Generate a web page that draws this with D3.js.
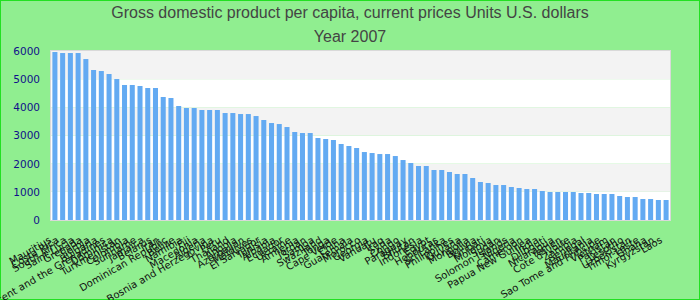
<!DOCTYPE html>
<html>
<head>
<meta charset="utf-8">
<script src="https://cdn.jsdelivr.net/npm/d3@7"></script>
<style>
  body { margin: 0; }
  svg { display: block; }
</style>
</head>
<body>
<div id="chart"><svg width="700" height="300"></svg></div>
<script>
// countries sorted by value
const countries = ["Mauritius", "Costa Rica", "South Africa", "Saint Lucia", "Grenada", "Serbia", "Bulgaria",
  "Saint Vincent and the Grenadines", "Dominica", "Turkmenistan", "Colombia", "Suriname", "Jamaica", "Belarus",
  "Iran", "Dominican Republic", "Belize", "Namibia", "Fiji", "Macedonia", "Algeria", "Bosnia and Herzegovina",
  "Peru", "Thailand", "Angola", "Azerbaijan", "Maldives", "El Salvador", "Tunisia", "Albania", "Ecuador",
  "Ukraine", "Armenia", "Jordan", "Samoa", "Swaziland", "Tonga", "Cape Verde", "China", "Guatemala",
  "Morocco", "Georgia", "Vanuatu", "Iraq", "Syria", "Congo", "Paraguay", "Bhutan", "Indonesia", "Egypt",
  "Honduras", "Sri Lanka", "Philippines", "Guyana", "Mongolia", "Bolivia", "Kiribati", "Moldova", "Sudan",
  "Solomon Islands", "Nigeria", "Cameroon", "Papua New Guinea", "India", "Djibouti", "Nicaragua", "Yemen",
  "Cote d'Ivoire", "Zambia", "Senegal", "Mauritania", "Sao Tome and Principe", "Vietnam", "Pakistan",
  "Lesotho", "Uzbekistan", "Timor-Leste", "Ghana", "Kyrgyzstan", "Laos"];

const gdpPerCapita = [5964, 5928, 5928, 5928, 5714, 5325, 5289, 5183, 5005, 4793, 4793, 4757, 4686, 4686,
  4367, 4331, 4047, 3976, 3976, 3905, 3905, 3905, 3798, 3798, 3762, 3762, 3691, 3550, 3443, 3407, 3301,
  3124, 3088, 3088, 2911, 2875, 2840, 2698, 2627, 2556, 2413, 2378, 2342, 2342, 2271, 2129, 2023, 1917,
  1917, 1775, 1775, 1704, 1633, 1633, 1491, 1349, 1313, 1242, 1242, 1171, 1136, 1100, 1100, 1029, 994,
  994, 994, 994, 958, 958, 923, 923, 923, 852, 816, 816, 745, 745, 710, 710];

const yTicks = [0, 1000, 2000, 3000, 4000, 5000, 6000];
const titleLines = ["Gross domestic product per capita, current prices Units U.S. dollars", "Year 2007"];

const svg = d3.select("#chart svg");
const width = +svg.attr("width");
const height = +svg.attr("height");
const plot = {left: 51, right: 670, top: 51, bottom: 220};

// background + outer border
svg.append("rect")
    .attr("x", 0.5).attr("y", 0.5)
    .attr("width", width - 1).attr("height", height - 1)
    .attr("fill", "#90ee90")
    .attr("stroke", "#22e022");

const x = d3.scaleBand()
    .domain(countries)
    .range([plot.left, plot.right])
    .paddingInner(0.35)
    .paddingOuter(0.18);

const y = d3.scaleLinear()
    .domain([0, 6000])
    .range([plot.bottom, plot.top]);

// alternating bands
svg.append("g")
  .selectAll("rect")
  .data(yTicks.slice(0, -1))
  .join("rect")
    .attr("x", plot.left)
    .attr("width", plot.right - plot.left)
    .attr("y", d => y(d + 1000))
    .attr("height", d => y(d) - y(d + 1000))
    .attr("fill", (d, i) => i % 2 ? "#f3f3f3" : "#ffffff");

svg.append("rect")
    .attr("x", plot.left - 0.5).attr("y", plot.top - 0.5)
    .attr("width", plot.right - plot.left + 1).attr("height", plot.bottom - plot.top + 1)
    .attr("fill", "none")
    .attr("stroke", "#d9d9d9");

// bars
svg.append("g")
  .selectAll("rect")
  .data(countries)
  .join("rect")
    .attr("x", d => x(d))
    .attr("width", x.bandwidth())
    .attr("y", (d, i) => y(gdpPerCapita[i]))
    .attr("height", (d, i) => y(0) - y(gdpPerCapita[i]))
    .attr("fill", "#63aaf2");

// y axis labels
const yAxis = svg.append("g")
    .attr("transform", `translate(${plot.left - 11},0)`)
    .call(d3.axisLeft(y).tickValues(yTicks).tickFormat(d3.format("d")).tickSize(0).tickPadding(0));
yAxis.select(".domain").remove();
yAxis.selectAll("text")
    .attr("fill", "#10108a")
    .attr("font-family", "DejaVu Sans")
    .attr("font-size", 10.5);

// x labels, rotated
svg.append("g")
  .selectAll("text")
  .data(countries)
  .join("text")
    .attr("transform", d => `translate(${x(d) + x.bandwidth() / 2 - 3},242) rotate(-30)`)
    .attr("text-anchor", "end")
    .attr("font-family", "DejaVu Sans")
    .attr("font-size", 10)
    .attr("fill", "#111")
    .text(d => d);

// title
svg.append("g")
  .selectAll("text")
  .data(titleLines)
  .join("text")
    .attr("x", width / 2)
    .attr("y", (d, i) => 18 + i * 24)
    .attr("text-anchor", "middle")
    .attr("font-family", "Liberation Sans, Arial, sans-serif")
    .attr("font-size", 16)
    .attr("fill", "#444")
    .text(d => d);
</script>
</body>
</html>
